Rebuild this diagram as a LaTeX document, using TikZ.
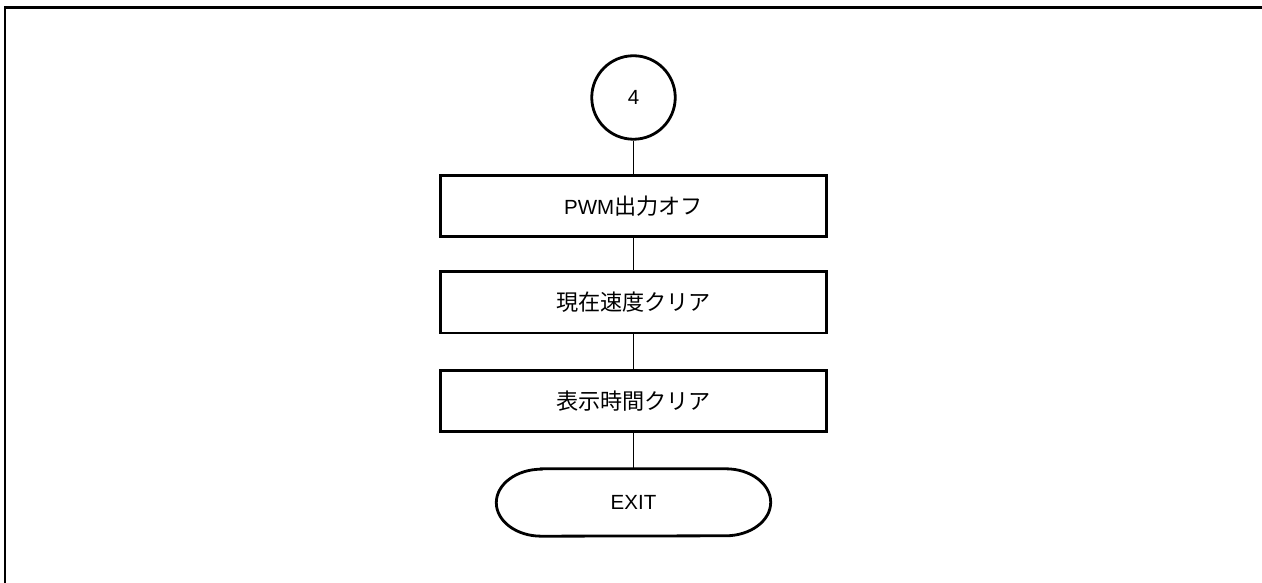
\documentclass[tikz,border=0pt]{standalone}
\usepackage{fontspec}
\setmainfont{Liberation Sans}
\newfontfamily\cjk[Scale=1.08]{Noto Sans CJK JP}
\usetikzlibrary{calc}
\begin{document}
\begin{tikzpicture}[x=1bp,y=1bp,
  every node/.style={font=\fontsize{20.5bp}{24bp}\selectfont, inner sep=0pt},
  procbox/.style={draw, line width=2.8bp, minimum width=386.2bp, minimum height=61.2bp},
  connbox/.style={draw, circle, line width=2.8bp, minimum size=83.5bp},
  termbox/.style={minimum width=274bp, minimum height=67bp},
  link/.style={line width=1.6bp},
  frameline/.style={line width=2.6bp}]
\useasboundingbox[fill=white] (0,0) rectangle (1262,583);
\draw[frameline] (5,-5) -- (5,575.3) -- (1270,575.3);
\node[connbox] (c4) at (633.5,485.5) {4};
\node[procbox] (b1) at (633.5,377) {PWM{\cjk 出力オフ}};
\node[procbox] (b2) at (633.5,280.5) {{\cjk 現在速度クリア}};
\node[procbox] (b3) at (633.5,182) {{\cjk 表示時間クリア}};
\node[termbox] (ex) at (633.5,80.5) {EXIT};
\draw[line width=2.8bp] ($(ex.north west)+(45,0)$) -- ($(ex.north east)+(-45,0)$)
  arc[start angle=90, end angle=-90, x radius=45, y radius=33.5]
  -- ($(ex.south west)+(45,0)$)
  arc[start angle=270, end angle=90, x radius=45, y radius=33.5] -- cycle;
\draw[link] (c4) -- (b1);
\draw[link] (b1) -- (b2);
\draw[link] (b2) -- (b3);
\draw[link] (b3) -- (ex);
\end{tikzpicture}
\end{document}
